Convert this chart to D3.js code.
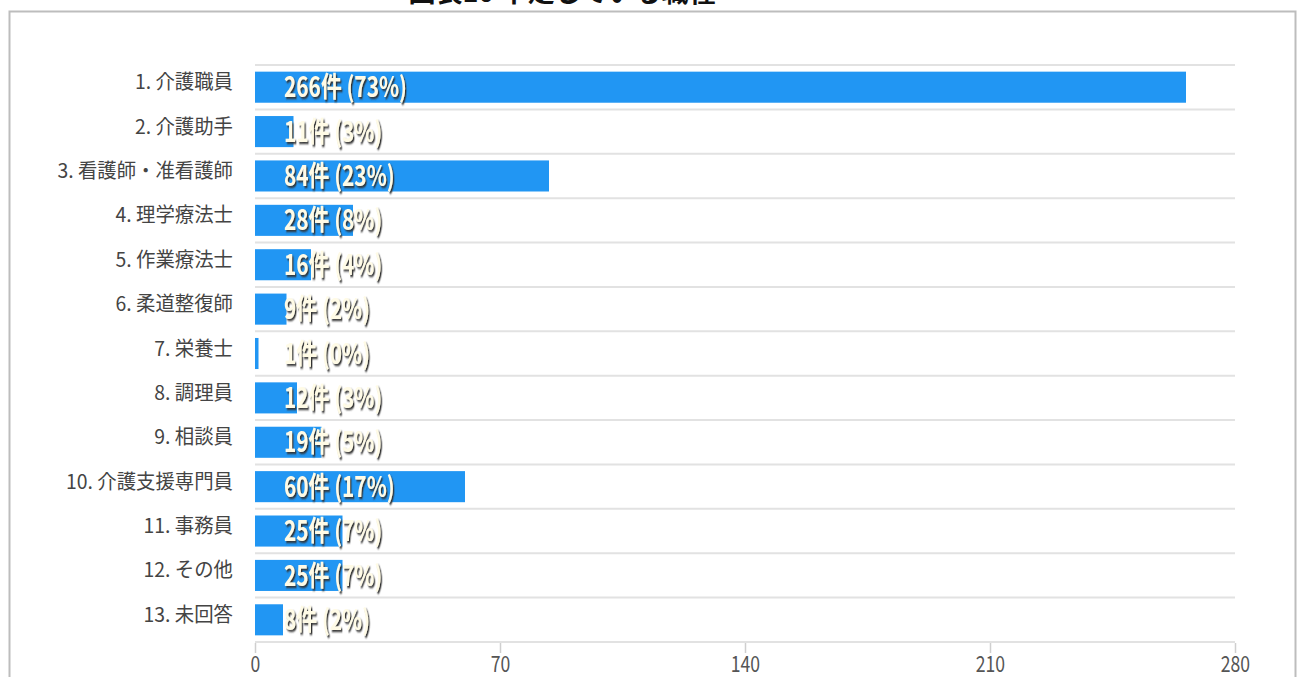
<!DOCTYPE html>
<html>
<head>
<meta charset="utf-8">
<script src="https://cdn.jsdelivr.net/npm/d3@7"></script>
<style>
  body { margin: 0; background: #fff; }
  svg { display: block; }
</style>
</head>
<body>
<div id="chart"></div>
<script>
// data
const TITLE = "図表10 不足している職種";
const CATEGORIES = ["1. 介護職員", "2. 介護助手", "3. 看護師・准看護師", "4. 理学療法士",
  "5. 作業療法士", "6. 柔道整復師", "7. 栄養士", "8. 調理員", "9. 相談員",
  "10. 介護支援専門員", "11. 事務員", "12. その他", "13. 未回答"];
const COUNTS = [266, 11, 84, 28, 16, 9, 1, 12, 19, 60, 25, 25, 8];
const PERCENTS = [73, 3, 23, 8, 4, 2, 0, 3, 5, 17, 7, 7, 2];
const X_TICKS = [0, 70, 140, 210, 280];

// frame constants
const FRAME_WIDTH = 1299;
const FRAME_HEIGHT = 677;
const MARGINS = {left: 255, right: 64, top: 65, bottom: 35};
const FONT = "'Noto Sans CJK JP', 'Noto Sans', sans-serif";

const rows = CATEGORIES.map((c, i) => ({cat: c, n: COUNTS[i], pct: PERCENTS[i]}));

const svg = d3.select("#chart")
  .append("svg")
    .attr("width", FRAME_WIDTH)
    .attr("height", FRAME_HEIGHT);

// drop shadow for the value labels
const filt = svg.append("defs").append("filter")
    .attr("id", "shadow")
    .attr("x", "-10%").attr("y", "-30%")
    .attr("width", "130%").attr("height", "170%");
filt.append("feDropShadow")
    .attr("dx", 1.8).attr("dy", 2)
    .attr("stdDeviation", 1)
    .attr("flood-color", "#333")
    .attr("flood-opacity", 1);

// outer frame (bottom edge runs off the picture)
svg.append("rect")
    .attr("x", 9.5).attr("y", 11.5)
    .attr("width", 1286).attr("height", 720)
    .attr("fill", "none")
    .attr("stroke", "#bdbdbd")
    .attr("stroke-width", 2);

// title, mostly cut off at the top like the source
svg.append("text")
    .attr("x", 562).attr("y", 2)
    .attr("text-anchor", "middle")
    .attr("font-family", FONT)
    .attr("font-weight", "bold")
    .attr("font-size", 27)
    .attr("fill", "#111")
    .text(TITLE);

// scales
const X = d3.scaleLinear()
  .domain([0, 280])
  .range([MARGINS.left, FRAME_WIDTH - MARGINS.right]);

const Y = d3.scaleBand()
  .domain(CATEGORIES)
  .range([MARGINS.top, FRAME_HEIGHT - MARGINS.bottom])
  .paddingInner(0.3)
  .paddingOuter(0.15);

const step = Y.step();

// horizontal grid lines between rows
const gridYs = d3.range(CATEGORIES.length + 1).map(i => Y(CATEGORIES[0]) - (step - Y.bandwidth()) / 2 + i * step);
svg.selectAll(".grid")
  .data(gridYs)
  .enter()
  .append("line")
    .attr("x1", X(0)).attr("x2", X(280))
    .attr("y1", d => d).attr("y2", d => d)
    .attr("stroke", "#e2e2e2")
    .attr("stroke-width", 2);

// bars
svg.selectAll(".bar")
  .data(rows)
  .enter()
  .append("rect")
    .attr("x", X(0))
    .attr("y", d => Y(d.cat))
    .attr("width", d => Math.max(X(d.n) - X(0), 2))
    .attr("height", Y.bandwidth())
    .attr("fill", "#2196f3");

// category labels
svg.selectAll(".cat")
  .data(rows)
  .enter()
  .append("text")
    .attr("transform", d => "translate(233," + (Y(d.cat) + Y.bandwidth() / 2 - 5) + ") scale(0.97,1)")
    .attr("dy", "0.35em")
    .attr("text-anchor", "end")
    .attr("font-family", FONT)
    .attr("font-size", 20)
    .attr("fill", "#444")
    .text(d => d.cat);

// value labels (narrow, tall lettering)
svg.selectAll(".val")
  .data(rows)
  .enter()
  .append("text")
    .attr("transform", d => "translate(" + (X(0) + 29) + "," + (Y(d.cat) + Y.bandwidth() / 2) + ") scale(0.745,1)")
    .attr("dy", "0.36em")
    .attr("font-family", FONT)
    .attr("font-weight", "bold")
    .attr("font-size", 28)
    .attr("fill", "#fffbe6")
    .attr("filter", "url(#shadow)")
    .text(d => d.n + "件 (" + d.pct + "%)");

// x axis
const xAxis = d3.axisBottom(X)
  .tickValues(X_TICKS)
  .tickSize(10)
  .tickPadding(3);

const axisG = svg.append("g")
  .attr("transform", "translate(0," + (gridYs[gridYs.length - 1] + 1) + ")")
  .call(xAxis);

axisG.select(".domain").remove();
axisG.selectAll(".tick line").attr("stroke", "#cfcfcf").attr("stroke-width", 1.5);
axisG.selectAll(".tick text")
  .attr("font-family", FONT)
  .attr("font-size", 22)
  .attr("fill", "#555")
  .attr("transform", "scale(0.8,1)");
</script>
</body>
</html>
